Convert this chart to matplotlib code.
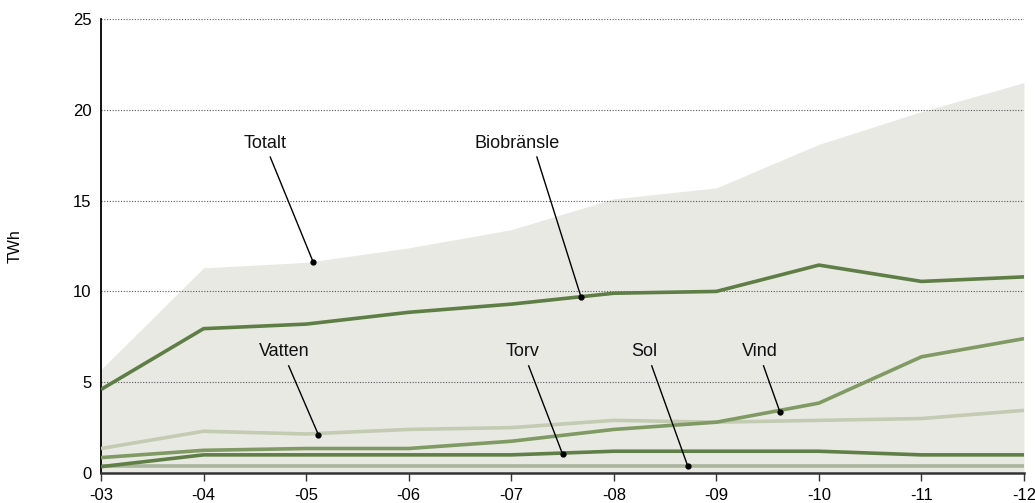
import matplotlib.pyplot as plt

plt.rcParams["font.family"] = ["Liberation Sans", "DejaVu Sans"]

years = ["-03", "-04", "-05", "-06", "-07", "-08", "-09", "-10", "-11", "-12"]
totalt = [5.7, 11.3, 11.6, 12.4, 13.4, 15.1, 15.7, 18.1, 19.9, 21.5]
biobransle = [4.6, 7.95, 8.2, 8.85, 9.3, 9.9, 10.0, 11.45, 10.55, 10.8]
vind = [0.85, 1.25, 1.35, 1.35, 1.75, 2.4, 2.8, 3.85, 6.4, 7.4]
vatten = [1.35, 2.3, 2.15, 2.4, 2.5, 2.9, 2.8, 2.9, 3.0, 3.45]
torv = [0.35, 1.0, 1.0, 1.0, 1.0, 1.2, 1.2, 1.2, 1.0, 1.0]
sol = [0.4, 0.4, 0.4, 0.4, 0.4, 0.4, 0.4, 0.4, 0.4, 0.4]

# label text position, line start and dot position (x in year index, y in TWh)
labels = [
    ("Totalt", (1.60, 18.15), (1.65, 17.4), (2.07, 11.6)),
    ("Biobränsle", (4.06, 18.15), (4.25, 17.4), (4.68, 9.7)),
    ("Vatten", (1.79, 6.7), (1.83, 5.9), (2.12, 2.1)),
    ("Torv", (4.11, 6.7), (4.17, 5.9), (4.50, 1.05)),
    ("Sol", (5.30, 6.7), (5.37, 5.9), (5.72, 0.4)),
    ("Vind", (6.42, 6.7), (6.46, 5.9), (6.62, 3.36)),
]

x = list(range(len(years)))

fig = plt.figure(figsize=(10.35, 5.03), dpi=100)
ax = fig.add_axes([0.0976, 0.0596, 0.8918, 0.9026])

ax.fill_between(x, 0, totalt, color="#e9e9e4", linewidth=0, zorder=0)

lw = 2.6
ax.plot(x, sol, color="#aab59b", lw=lw, solid_capstyle="butt", zorder=2)
ax.plot(x, torv, color="#607f47", lw=lw, solid_capstyle="butt", zorder=3)
ax.plot(x, vind, color="#7f9a63", lw=lw, solid_capstyle="butt", zorder=4)
ax.plot(x, vatten, color="#c3cbb3", lw=lw, solid_capstyle="butt", zorder=3.5)
ax.plot(x, biobransle, color="#5e7e45", lw=lw, solid_capstyle="butt", zorder=5)

for text, tpos, start, dot in labels:
    ax.text(tpos[0], tpos[1], text, ha="center", va="center", fontsize=13, color="#111111", zorder=6)
    ax.plot([start[0], dot[0]], [start[1], dot[1]], color="black", lw=1.0, zorder=6)
    ax.plot(dot[0], dot[1], "o", color="black", ms=3.5, zorder=7)

ax.set_xlim(0, len(years) - 1)
ax.set_ylim(0, 25)
ax.set_xticks(x)
ax.set_xticklabels(years)
ax.set_yticks([0, 5, 10, 15, 20, 25])

ax.yaxis.grid(True, linestyle=(0, (1, 1.5)), color="#555555", linewidth=0.8)
ax.set_axisbelow("line")

for side in ["top", "right"]:
    ax.spines[side].set_visible(False)
ax.spines["left"].set_linewidth(1.3)
ax.spines["left"].set_color("black")
ax.spines["bottom"].set_linewidth(1.8)
ax.spines["bottom"].set_color("#333333")
ax.spines["bottom"].set_zorder(8)

ax.tick_params(axis="x", length=6, width=1.0, color="#333333", labelsize=12, pad=5)
ax.tick_params(axis="y", length=0, labelsize=12, pad=7)

ax.set_ylabel("TWh", fontsize=11.5)
ax.yaxis.set_label_coords(-0.0845, 0.5)

fig.savefig("out.png", dpi=100, facecolor="white")
